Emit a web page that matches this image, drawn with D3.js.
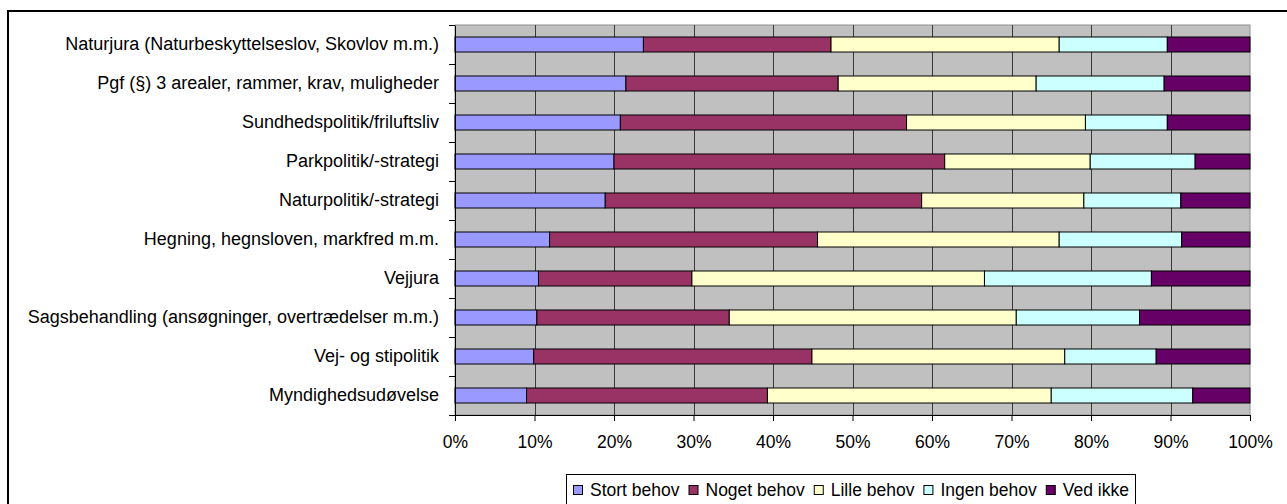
<!DOCTYPE html>
<html>
<head>
<meta charset="utf-8">
<title>Behov for viden</title>
<script src="https://d3js.org/d3.v7.min.js"></script>
<style>
  body { margin: 0; background: #fff; }
  text { font-family: "Liberation Sans", Arial, sans-serif; fill: #000; }
</style>
</head>
<body>
<div id="chart"></div>
<script>
// categories, top to bottom
var categories = [
  "Naturjura (Naturbeskyttelseslov, Skovlov m.m.)",
  "Pgf (§) 3 arealer, rammer, krav, muligheder",
  "Sundhedspolitik/friluftsliv",
  "Parkpolitik/-strategi",
  "Naturpolitik/-strategi",
  "Hegning, hegnsloven, markfred m.m.",
  "Vejjura",
  "Sagsbehandling (ansøgninger, overtrædelser m.m.)",
  "Vej- og stipolitik",
  "Myndighedsudøvelse"
];
var seriesNames = ["Stort behov", "Noget behov", "Lille behov", "Ingen behov", "Ved ikke"];

// percent per series, same order as categories
var stortBehov = [23.7, 21.5, 20.8, 20.0, 18.9, 11.9, 10.5, 10.3, 9.9, 9.0];
var nogetBehov = [23.6, 26.7, 36.0, 41.6, 39.8, 33.7, 19.3, 24.2, 35.0, 30.3];
var lilleBehov = [28.7, 24.9, 22.5, 18.3, 20.4, 30.4, 36.8, 36.1, 31.8, 35.7];
var ingenBehov = [13.6, 16.1, 10.3, 13.2, 12.2, 15.4, 21.0, 15.5, 11.5, 17.8];
var vedIkke    = [10.4, 10.8, 10.4, 6.9, 8.7, 8.6, 12.4, 13.9, 11.8, 7.2];

var xTicks = [0, 0.1, 0.2, 0.3, 0.4, 0.5, 0.6, 0.7, 0.8, 0.9, 1];

var colors = ["#9999FF", "#993366", "#FFFFCC", "#CCFFFF", "#660066"];

var W = 1287, H = 504;
var plot = {left: 455, right: 1250, top: 25, bottom: 415};

var svg = d3.select("#chart").append("svg")
    .attr("width", W).attr("height", H);

// chart border (runs off the right and bottom of the picture)
svg.append("rect")
    .attr("x", 8).attr("y", 11)
    .attr("width", 1400).attr("height", 600)
    .attr("fill", "#fff")
    .attr("stroke", "#000").attr("stroke-width", 2);

var seriesValues = [stortBehov, nogetBehov, lilleBehov, ingenBehov, vedIkke];
var rows = categories.map(function(c, i) {
  var r = {cat: c};
  seriesNames.forEach(function(s, j) { r[s] = seriesValues[j][i]; });
  return r;
});

var stacked = d3.stack().keys(seriesNames).offset(d3.stackOffsetExpand)(rows);

var x = d3.scaleLinear().domain([0, 1]).range([plot.left, plot.right]);
var y = d3.scaleBand().domain(categories)
    .range([plot.top, plot.bottom])
    .paddingInner(0.615).paddingOuter(0.3075);

// plot area
svg.append("rect")
    .attr("x", plot.left).attr("y", plot.top)
    .attr("width", plot.right - plot.left).attr("height", plot.bottom - plot.top)
    .attr("fill", "#C0C0C0")
    .attr("stroke", "#909090").attr("stroke-width", 1);

// vertical gridlines
svg.append("g").selectAll("line")
  .data(xTicks.slice(1, -1))
  .join("line")
    .attr("x1", function(d) { return Math.round(x(d)) + 0.5; })
    .attr("x2", function(d) { return Math.round(x(d)) + 0.5; })
    .attr("y1", plot.top).attr("y2", plot.bottom)
    .attr("stroke", "#3a3a3a").attr("stroke-width", 1);

// bars
svg.append("g").selectAll("g")
  .data(stacked)
  .join("g")
    .attr("fill", function(d, i) { return colors[i]; })
  .selectAll("rect")
  .data(function(d) { return d; })
  .join("rect")
    .attr("x", function(d) { return x(d[0]); })
    .attr("width", function(d) { return x(d[1]) - x(d[0]); })
    .attr("y", function(d) { return y(d.data.cat); })
    .attr("height", y.bandwidth())
    .attr("stroke", "#000").attr("stroke-width", 1);

// x axis
var xAxis = svg.append("g")
    .attr("transform", "translate(0," + plot.bottom + ")")
    .call(d3.axisBottom(x).tickValues(xTicks).tickFormat(d3.format(".0%"))
      .tickSize(6).tickPadding(15).tickSizeOuter(0));
xAxis.select(".domain").attr("stroke", "#000");
xAxis.selectAll("text").style("font-size", "17.5px");

// y axis: labels plus ticks on the category boundaries
var yAxis = svg.append("g")
    .attr("transform", "translate(" + plot.left + ",0)")
    .call(d3.axisLeft(y).tickSize(0).tickPadding(16));
yAxis.select(".domain").attr("stroke", "#000");
yAxis.selectAll("text").style("font-size", "18px");

var gap = (y.step() - y.bandwidth()) / 2;
var bounds = categories.map(function(c) { return y(c) - gap; }).concat([plot.bottom]);
svg.append("g").selectAll("line")
  .data(bounds)
  .join("line")
    .attr("x1", plot.left - 6).attr("x2", plot.left)
    .attr("y1", function(d) { return Math.round(d) + 0.5; })
    .attr("y2", function(d) { return Math.round(d) + 0.5; })
    .attr("stroke", "#000");

// legend
var legend = svg.append("g");
legend.append("rect")
    .attr("x", 566.5).attr("y", 474.5)
    .attr("width", 569).attr("height", 40)
    .attr("fill", "#fff").attr("stroke", "#000");

var lx = 573;
seriesNames.forEach(function(s, i) {
  legend.append("rect")
      .attr("x", lx + 0.5).attr("y", 485.5)
      .attr("width", 9).attr("height", 9)
      .attr("fill", colors[i]).attr("stroke", "#000");
  var t = legend.append("text")
      .attr("x", lx + 17).attr("y", 496)
      .style("font-size", "17.5px")
      .text(s);
  lx += 17 + t.node().getComputedTextLength() + 9;
});
</script>
</body>
</html>
